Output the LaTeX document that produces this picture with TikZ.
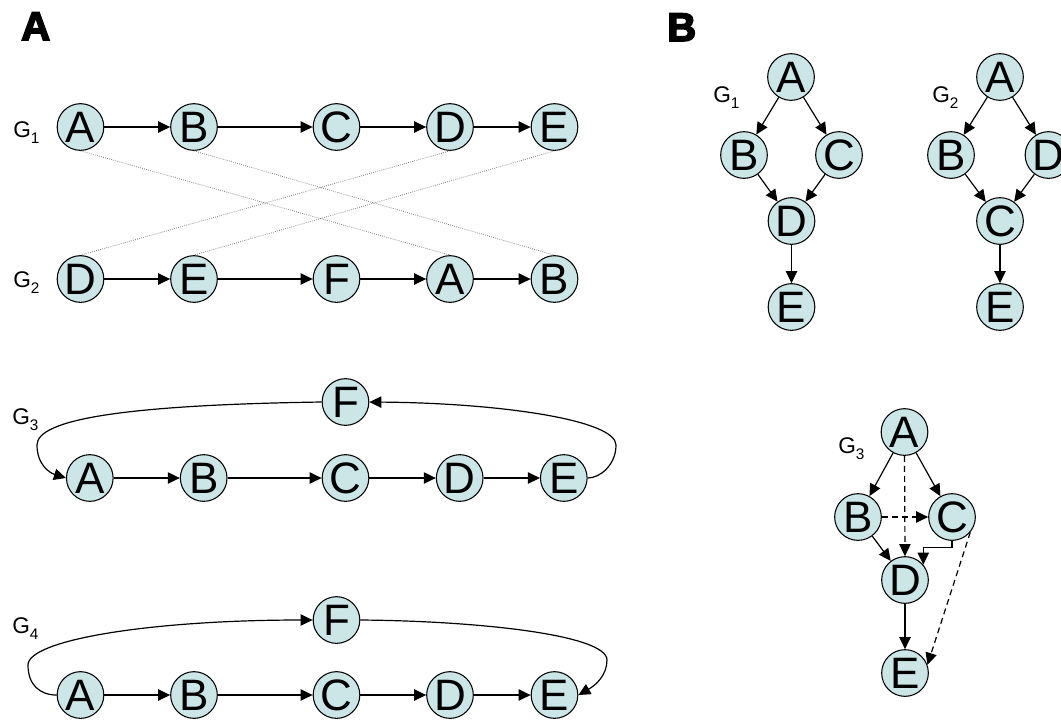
\documentclass[tikz,border=0pt]{standalone}
\usepackage{fontspec}
\setmainfont{Liberation Sans}
\newfontfamily\heavyfont[FakeBold=4]{Liberation Sans Bold}
\usetikzlibrary{arrows.meta}
\definecolor{nodefill}{RGB}{204,230,232}
\newcommand{\mysub}[1]{\raisebox{-5pt}{\fontsize{11.5}{11.5}\selectfont #1}}
\begin{document}
\begin{tikzpicture}[x=0.75pt,y=-0.75pt,
  nd/.style={circle,draw=black,line width=0.8pt,fill=nodefill,minimum size=35pt,inner sep=0pt,font=\fontsize{33}{33}\selectfont},
  arr/.style={-{Triangle[length=9pt,width=8.5pt]},line width=0.9pt},
  dsh/.style={arr,dash pattern=on 4.5pt off 3pt},
  match/.style={densely dotted,gray,line width=0.6pt},
  glab/.style={anchor=base west,inner sep=0pt,font=\fontsize{17}{17}\selectfont},
  panel/.style={anchor=base west,inner sep=0pt,font=\heavyfont\fontsize{30}{30}\selectfont}]
\useasboundingbox (0,0) rectangle (1061,719);

% panel labels
\node[panel] (pa) at (21,40) {A};
\node[panel] (pb) at (667,41) {B};

% ---------- Panel A ----------
% G1
\node[glab] (l1) at (13,137) {G\mysub{1}};
\node[nd] (a1a) at (80.5,127) {A};
\node[nd] (a1b) at (194,127) {B};
\node[nd] (a1c) at (336.5,127) {C};
\node[nd] (a1d) at (450,127) {D};
\node[nd] (a1e) at (554.5,127) {E};
% G2
\node[glab] (l2) at (13,287) {G\mysub{2}};
\node[nd] (a2d) at (80.5,279) {D};
\node[nd] (a2e) at (194,279) {E};
\node[nd] (a2f) at (336.5,279) {F};
\node[nd] (a2a) at (450,279) {A};
\node[nd] (a2b) at (554.5,279) {B};
\draw[arr] (a1a) -- (a1b);
\draw[arr] (a1b) -- (a1c);
\draw[arr] (a1c) -- (a1d);
\draw[arr] (a1d) -- (a1e);
\draw[arr] (a2d) -- (a2e);
\draw[arr] (a2e) -- (a2f);
\draw[arr] (a2f) -- (a2a);
\draw[arr] (a2a) -- (a2b);
\draw[match] (a1a.south) -- (a2a.north);
\draw[match] (a1b.south) -- (a2b.north);
\draw[match] (a1d.south) -- (a2d.north);
\draw[match] (a1e.south) -- (a2e.north);

% G3
\node[glab] (l3) at (12,424) {G\mysub{3}};
\node[nd] (a3f) at (345.5,402) {F};
\node[nd] (a3a) at (89.8,478) {A};
\node[nd] (a3b) at (203.7,478) {B};
\node[nd] (a3c) at (345.5,478) {C};
\node[nd] (a3d) at (459.7,478) {D};
\node[nd] (a3e) at (563.8,478) {E};
\draw[arr] (a3a) -- (a3b);
\draw[arr] (a3b) -- (a3c);
\draw[arr] (a3c) -- (a3d);
\draw[arr] (a3d) -- (a3e);
\draw[arr] (a3e.east) .. controls (600,478) and (616,465) .. (616,445)
  .. controls (616,420) and (500,403) .. (a3f.east);
\draw[arr] (a3f.west) .. controls (120,405) and (37,420) .. (37,445)
  .. controls (37,465) and (50,473) .. (a3a.west);

% G4
\node[glab] (l4) at (12,633) {G\mysub{4}};
\node[nd] (a4f) at (336.5,620) {F};
\node[nd] (a4a) at (80.5,695) {A};
\node[nd] (a4b) at (194,695) {B};
\node[nd] (a4c) at (336.5,695) {C};
\node[nd] (a4d) at (450,695) {D};
\node[nd] (a4e) at (554.5,695) {E};
\draw[arr] (a4a) -- (a4b);
\draw[arr] (a4b) -- (a4c);
\draw[arr] (a4c) -- (a4d);
\draw[arr] (a4d) -- (a4e);
\draw[arr] (a4a.west) .. controls (40,695) and (28,685) .. (28,665)
  .. controls (28,640) and (150,620) .. (a4f.west);
\draw[arr] (a4f.east) .. controls (480,621) and (607,635) .. (607,660)
  .. controls (607,675) and (596,685) .. (a4e.east);

% ---------- Panel B ----------
% G1
\node[glab] (m1) at (713,102) {G\mysub{1}};
\node[nd] (b1a) at (791,77) {A};
\node[nd] (b1b) at (744,155) {B};
\node[nd] (b1c) at (839,155) {C};
\node[nd] (b1d) at (791.5,221) {D};
\node[nd] (b1e) at (791.5,307) {E};
\draw[arr] (b1a) -- (b1b);
\draw[arr] (b1a) -- (b1c);
\draw[arr] (b1b) -- (b1d);
\draw[arr] (b1c) -- (b1d);
\draw[arr] (b1d) -- (b1e);
% G2
\node[glab] (m2) at (932,102) {G\mysub{2}};
\node[nd] (b2a) at (1000,77) {A};
\node[nd] (b2b) at (951,155) {B};
\node[nd] (b2d) at (1048.5,155) {D};
\node[nd] (b2c) at (1000,221) {C};
\node[nd] (b2e) at (1000,307) {E};
\draw[arr] (b2a) -- (b2b);
\draw[arr] (b2a) -- (b2d);
\draw[arr] (b2b) -- (b2c);
\draw[arr] (b2d) -- (b2c);
\draw[arr] (b2c) -- (b2e);
% G3
\node[glab] (m3) at (838,453) {G\mysub{3}};
\node[nd] (b3a) at (904.5,432) {A};
\node[nd] (b3b) at (858,517) {B};
\node[nd] (b3c) at (952,517) {C};
\node[nd] (b3d) at (905,580) {D};
\node[nd] (b3e) at (905,673) {E};
\draw[arr] (b3a) -- (b3b);
\draw[arr] (b3a) -- (b3c);
\draw[dsh] (b3a.south) -- (b3d.north);
\draw[dsh] (b3b) -- (b3c);
\draw[arr] (b3b) -- (b3d);
\path (b3d.40) ++(0,-17) coordinate (cd);
\draw[arr] (b3c.south) |- (cd) -- (b3d.40);
\draw[arr] (b3d) -- (b3e);
\draw[dsh] (b3c.-40) -- (b3e.20);
\end{tikzpicture}
\end{document}
